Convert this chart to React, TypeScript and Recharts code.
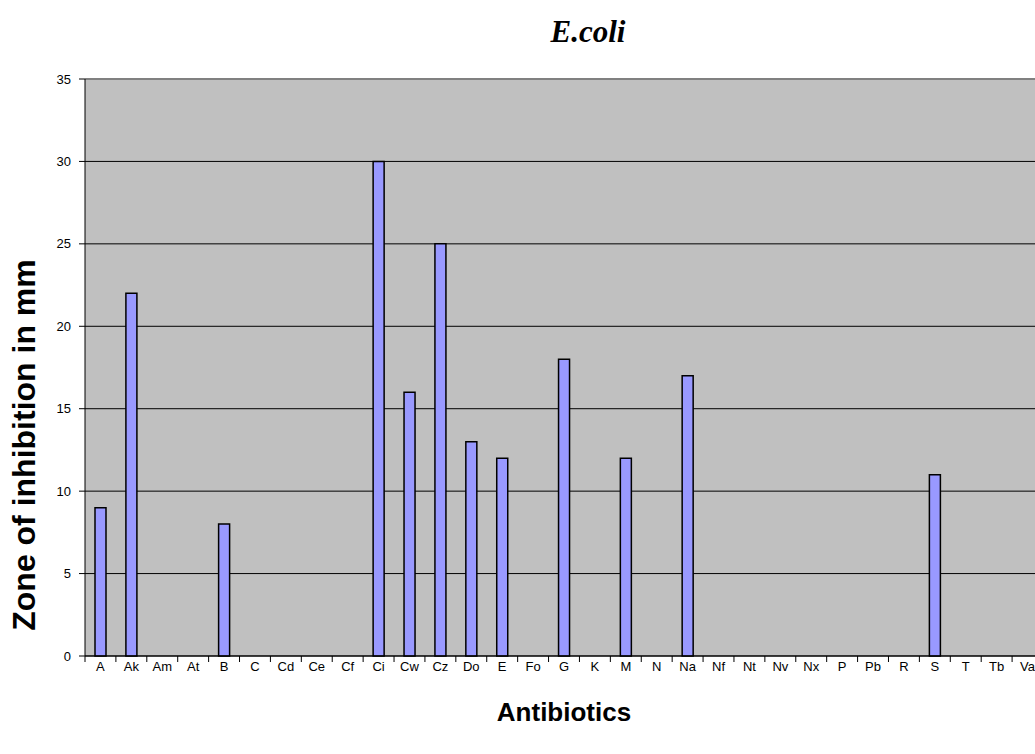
import { Bar, BarChart, CartesianGrid, ReferenceLine, XAxis, YAxis } from 'recharts';

const antibiotics = [
  'A', 'Ak', 'Am', 'At', 'B', 'C', 'Cd', 'Ce', 'Cf', 'Ci', 'Cw', 'Cz', 'Do', 'E', 'Fo', 'G',
  'K', 'M', 'N', 'Na', 'Nf', 'Nt', 'Nv', 'Nx', 'P', 'Pb', 'R', 'S', 'T', 'Tb', 'Va',
];
const zoneMm = [
  9, 22, 0, 0, 8, 0, 0, 0, 0, 30, 16, 25, 13, 12, 0, 18,
  0, 12, 0, 17, 0, 0, 0, 0, 0, 0, 0, 11, 0, 0, 0,
];
const yTicks = [0, 5, 10, 15, 20, 25, 30, 35];

const data = antibiotics.map((name, i) => ({ name, zone: zoneMm[i] }));

const W = 1120;
const H = 754;
const margin = { top: 79, right: 77, bottom: 68, left: 25 };
const yAxisWidth = 60;
const plotWidth = W - margin.left - margin.right - yAxisWidth;
const band = plotWidth / antibiotics.length;
const font = "Arial, 'Liberation Sans', sans-serif";

function XTick(props: any) {
  const { x, y, payload } = props;
  const left = x - band / 2;
  return (
    <g>
      <line x1={left} y1={y} x2={left} y2={y + 6} stroke="#000" />
      <text x={x} y={y + 15} textAnchor="middle" fontSize={13} fill="#000" fontFamily={font}>
        {payload.value}
      </text>
    </g>
  );
}

export default function App() {
  return (
    <div style={{ position: 'absolute', left: 0, top: 0, width: 1035, height: 754, overflow: 'hidden', background: '#fff' }}>
      <BarChart width={W} height={H} data={data} margin={margin} barSize={11}>
        <CartesianGrid fill="#c0c0c0" stroke="#000" vertical={false} />
        <ReferenceLine y={35} stroke="#808080" strokeWidth={2} />
        <XAxis
          dataKey="name"
          stroke="#000"
          tickLine={false}
          tickSize={0}
          tickMargin={0}
          height={30}
          interval={0}
          tick={<XTick />}
        />
        <YAxis
          domain={[0, 35]}
          ticks={yTicks}
          stroke="#000"
          width={yAxisWidth}
          tickSize={6}
          tickMargin={8}
          tick={{ fontSize: 13, fill: '#000', fontFamily: font }}
        />
        <Bar dataKey="zone" fill="#9999ff" stroke="#000" strokeWidth={1.5} isAnimationActive={false} />
      </BarChart>
      <div
        style={{
          position: 'absolute', left: 588, top: 32, transform: 'translate(-50%, -50%)',
          fontFamily: "'Liberation Serif', 'Times New Roman', serif", fontWeight: 'bold', fontStyle: 'italic',
          fontSize: 31, whiteSpace: 'nowrap',
        }}
      >
        E.coli
      </div>
      <div
        style={{
          position: 'absolute', left: 24, top: 445, transform: 'translate(-50%, -50%) rotate(-90deg)',
          fontFamily: font, fontWeight: 'bold', fontSize: 32, whiteSpace: 'nowrap',
        }}
      >
        Zone of inhibition in mm
      </div>
      <div
        style={{
          position: 'absolute', left: 564, top: 712, transform: 'translate(-50%, -50%)',
          fontFamily: font, fontWeight: 'bold', fontSize: 26, whiteSpace: 'nowrap',
        }}
      >
        Antibiotics
      </div>
    </div>
  );
}
